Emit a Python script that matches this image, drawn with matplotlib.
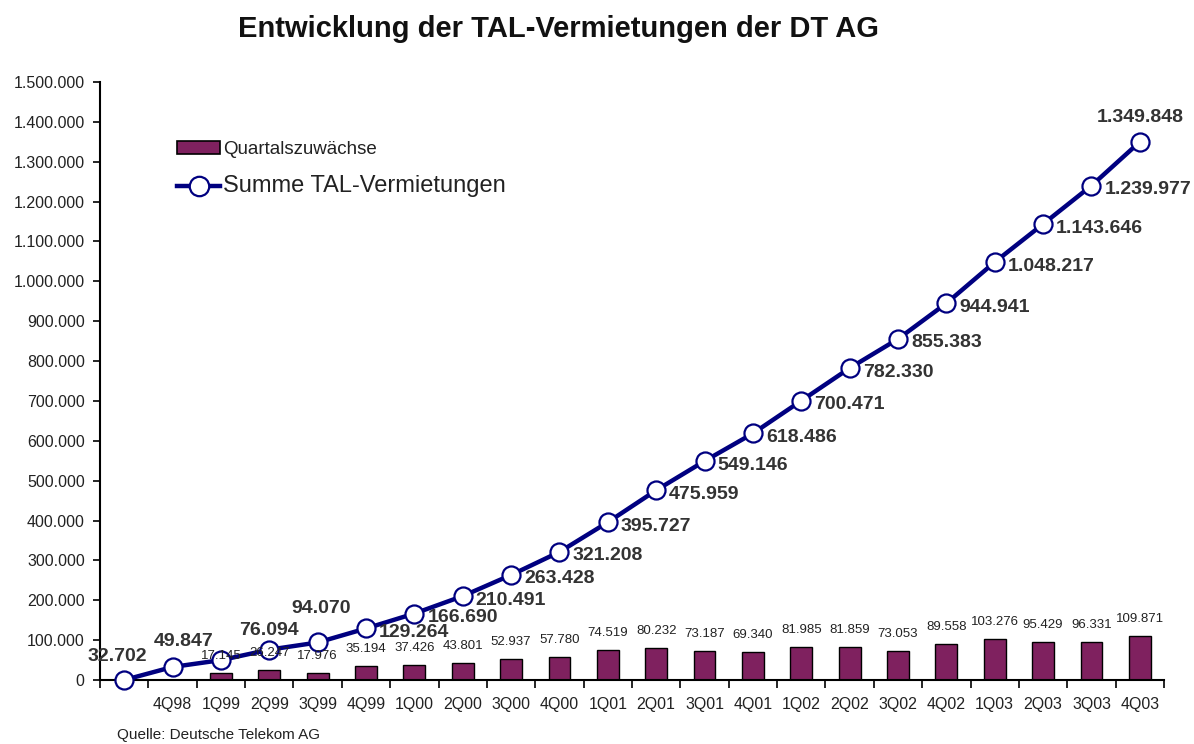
import numpy as np
import matplotlib
matplotlib.use("Agg")
import matplotlib.pyplot as plt
from matplotlib.ticker import FuncFormatter, FixedLocator
from matplotlib.patches import Patch
from matplotlib.lines import Line2D

plt.rcParams['font.family'] = ['Liberation Sans', 'DejaVu Sans']

# data
quarters = ["", "4Q98", "1Q99", "2Q99", "3Q99", "4Q99", "1Q00", "2Q00", "3Q00", "4Q00",
            "1Q01", "2Q01", "3Q01", "4Q01", "1Q02", "2Q02", "3Q02", "4Q02",
            "1Q03", "2Q03", "3Q03", "4Q03"]
summe = [0, 32702, 49847, 76094, 94070, 129264, 166690, 210491, 263428, 321208,
         395727, 475959, 549146, 618486, 700471, 782330, 855383, 944941,
         1048217, 1143646, 1239977, 1349848]
bar_quarters = quarters[2:]
zuwachs = [17145, 26247, 17976, 35194, 37426, 43801, 52937, 57780, 74519, 80232,
           73187, 69340, 81985, 81859, 73053, 89558, 103276, 95429, 96331, 109871]

BAR_C = "#7f215f"
LINE_C = "#000080"
TXT_C = "#222222"


def de_fmt(v):
  return "{:,.0f}".format(v).replace(",", ".")


fig = plt.figure(figsize=(11.94, 7.44), dpi=100)
ax = fig.add_axes([100/1194, 1-680/744, 1064/1194, 598/744])

x = np.arange(len(quarters))
xb = np.arange(2, len(quarters))

ax.bar(xb, zuwachs, width=0.45, color=BAR_C, edgecolor="black", linewidth=1.0, zorder=2)
ax.plot(x, summe, color=LINE_C, linewidth=3.2, marker="o", markersize=13,
        markerfacecolor="white", markeredgecolor=LINE_C, markeredgewidth=1.6,
        zorder=3, clip_on=False)

# bar labels
for xi, v in zip(xb, zuwachs):
  ax.annotate(de_fmt(v), (xi, v), xytext=(0, 11), textcoords="offset pixels",
              ha="center", va="bottom", fontsize=9.5, color=TXT_C)

# line labels
for i, v in enumerate(summe):
  if i == 0:
    continue
  if i == 1:
    off, ha, va = (-55, 10), "center", "center"
  elif i == 2:
    off, ha, va = (-37, 19), "center", "center"
  elif i == 3:
    off, ha, va = (0, 19), "center", "center"
  elif i == 4:
    off, ha, va = (3, 34), "center", "center"
  elif i == len(summe) - 1:
    off, ha, va = (0, 24), "center", "center"
  else:
    off, ha, va = (13, -4), "left", "center"
  ax.annotate(de_fmt(v), (i, v), xytext=off, textcoords="offset pixels",
              ha=ha, va=va, fontsize=14, fontweight="bold", color="#333333")

ax.set_xlim(-0.5, len(quarters) - 0.5)
ax.set_ylim(0, 1500000)
ax.set_yticks(np.arange(0, 1500001, 100000))
ax.yaxis.set_major_formatter(FuncFormatter(lambda v, p: de_fmt(v)))
ax.set_xticks(x)
ax.set_xticklabels(quarters)
ax.xaxis.set_minor_locator(FixedLocator(np.arange(-0.5, len(quarters), 1.0)))
ax.tick_params(axis="x", which="major", length=0, pad=12, labelsize=11.5, labelcolor=TXT_C)
ax.tick_params(axis="x", which="minor", length=6, width=1.2, direction="out")
ax.tick_params(axis="y", length=5, width=1.2, labelsize=11.5, labelcolor=TXT_C, pad=6)

for s in ["top", "right"]:
  ax.spines[s].set_visible(False)
ax.spines["left"].set_linewidth(1.5)
ax.spines["bottom"].set_linewidth(1.5)

handles = [Patch(facecolor=BAR_C, edgecolor="black", linewidth=1.2),
           Line2D([], [], color=LINE_C, linewidth=3.2, marker="o", markersize=14,
                  markerfacecolor="white", markeredgecolor=LINE_C, markeredgewidth=1.6)]
leg = fig.legend(handles, ["Quartalszuwächse", "Summe TAL-Vermietungen"],
                 loc="upper left", bbox_to_anchor=(164/1194, 1-128/744),
                 frameon=False, fontsize=13.5, handlelength=2.3, handletextpad=0.15,
                 labelspacing=0.9, borderpad=0.2, numpoints=1)
leg.get_texts()[1].set_fontsize(17)
for t in leg.get_texts():
  t.set_color(TXT_C)

fig.text(558/1194, 1-37/744, "Entwicklung der TAL-Vermietungen der DT AG",
         ha="center", va="baseline", fontsize=21, fontweight="bold", color="#111111")
fig.text(117/1194, 1-739/744, "Quelle: Deutsche Telekom AG",
         ha="left", va="baseline", fontsize=11, color=TXT_C)

fig.savefig("out.png", dpi=100)
